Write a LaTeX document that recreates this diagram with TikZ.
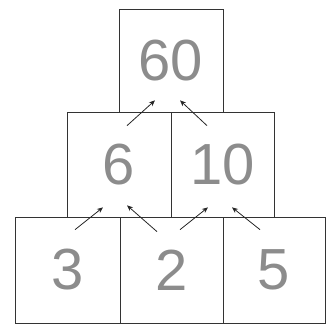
\documentclass[tikz,border=0pt]{standalone}
\usepackage{fontspec}
\setmainfont{Liberation Sans}
\usetikzlibrary{arrows.meta,calc}
\tikzset{
  cell/.style={draw=black!80, line width=0.7pt, inner sep=0pt,
    font=\fontsize{58}{58}\selectfont, text=black!45},
  up/.style={draw=black!85, line width=0.8pt, -{Stealth[length=6pt,width=5pt]}}
}
\begin{document}
\begin{tikzpicture}[x=1pt,y=-1pt]
\useasboundingbox (0,0) rectangle (336,327);
\node[cell, minimum width=104pt, minimum height=103pt] (t) at (171,60.5) {60};
\node[cell, minimum width=104pt, minimum height=105pt] (ml) at (119,164.5) {6};
\node[cell, minimum width=103pt, minimum height=105pt] (mr) at (222.5,164.5) {10};
\node[cell, minimum width=105pt, minimum height=106pt] (bl) at (67.5,270) {3};
\node[cell, minimum width=103pt, minimum height=106pt] (bm) at (171.5,270) {2};
\node[cell, minimum width=102pt, minimum height=106pt] (br) at (274,270) {5};
% arrow ends
\coordinate (s1) at ($(bl.north)+(7.5,13)$);
\coordinate (e1) at ($(ml.south)+(-16,-10)$);
\coordinate (s2) at ($(bm.north)+(-14.5,15)$);
\coordinate (e2) at ($(ml.south)+(8,-12)$);
\coordinate (s3) at ($(bm.north)+(8.5,13)$);
\coordinate (e3) at ($(mr.south)+(-14.5,-10)$);
\coordinate (s4) at ($(br.north)+(-14,13)$);
\coordinate (e4) at ($(mr.south)+(9.5,-10)$);
\coordinate (s5) at ($(ml.north)+(8,14)$);
\coordinate (e5) at ($(t.south)+(-16,-12)$);
\coordinate (s6) at ($(mr.north)+(-15.5,14)$);
\coordinate (e6) at ($(t.south)+(9,-12)$);
\foreach \i in {1,...,6} \draw[up] (s\i) -- (e\i);
\end{tikzpicture}
\end{document}
